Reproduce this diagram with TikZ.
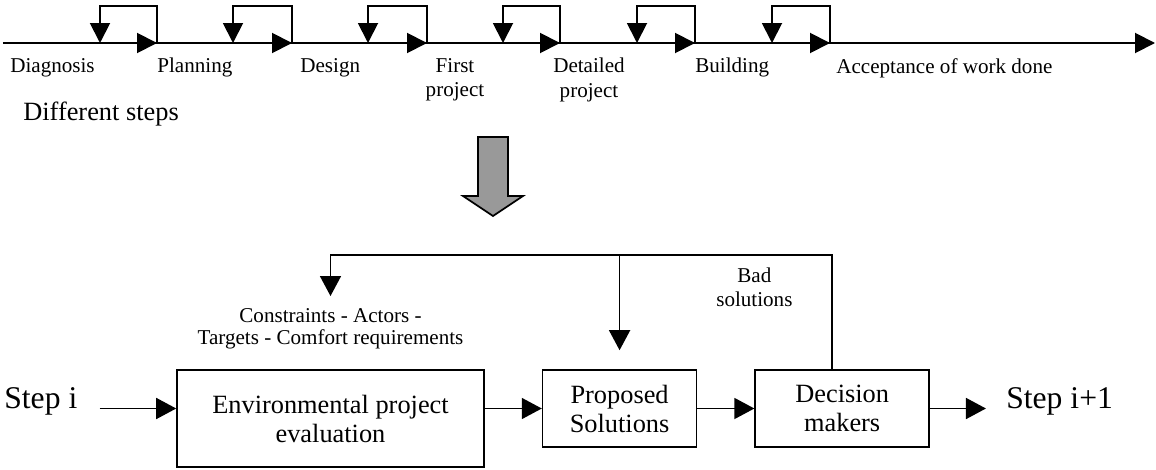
\documentclass[tikz,border=0pt]{standalone}
\usepackage{fontspec}
\setmainfont{Liberation Serif}
\usetikzlibrary{positioning}
\usetikzlibrary{positioning,arrows.meta}

\begin{document}
\begin{tikzpicture}[node distance=1cm and 1.14cm]
\tikzset{
    stepLabel/.style={inner sep=0pt, align=center, font=\fontsize{12}{13.7}\selectfont},
    titleStyle/.style={inner sep=0pt, font=\fontsize{15}{17}\selectfont},
    stepText/.style={inner sep=0pt, font=\fontsize{18}{20}\selectfont},
    boxStyle/.style={rectangle, draw, line width=0.9pt, minimum height=1.54cm, align=center, font=\fontsize{15}{16.5}\selectfont},
    timeArrow/.style={-{Triangle[length=0.4cm, width=0.4cm]}, line width=1.1pt},
    flowArrow/.style={-{Triangle[length=0.4cm, width=0.42cm]}, line width=0.9pt},
    bigArrow/.style={draw, line width=1pt, fill=black!40, line join=miter}
}

\useasboundingbox (0,0) rectangle (23.12,-9.38);

% time line, one small loop after each step
\coordinate (tlStart) at (0.06,-0.86);
\coordinate (tlEnd) at (23.10,-0.86);
\coordinate (l1) at (2.00,-0.86);  \coordinate (r1) at (3.14,-0.86);
\coordinate (l2) at (4.66,-0.86);  \coordinate (r2) at (5.84,-0.86);
\coordinate (l3) at (7.36,-0.86);  \coordinate (r3) at (8.54,-0.86);
\coordinate (l4) at (10.06,-0.86); \coordinate (r4) at (11.20,-0.86);
\coordinate (l5) at (12.74,-0.86); \coordinate (r5) at (13.90,-0.86);
\coordinate (l6) at (15.44,-0.86); \coordinate (r6) at (16.60,-0.86);

\draw[timeArrow] (tlStart) -- (tlEnd);

\draw[timeArrow] (l1) -- (r1);
\draw[timeArrow] (r1) -- ++(0,0.74) -| (l1);
\draw[timeArrow] (l2) -- (r2);
\draw[timeArrow] (r2) -- ++(0,0.74) -| (l2);
\draw[timeArrow] (l3) -- (r3);
\draw[timeArrow] (r3) -- ++(0,0.74) -| (l3);
\draw[timeArrow] (l4) -- (r4);
\draw[timeArrow] (r4) -- ++(0,0.74) -| (l4);
\draw[timeArrow] (l5) -- (r5);
\draw[timeArrow] (r5) -- ++(0,0.74) -| (l5);
\draw[timeArrow] (l6) -- (r6);
\draw[timeArrow] (r6) -- ++(0,0.74) -| (l6);

\node[stepLabel, below right=0.3cm and 0.14cm of tlStart] (diag) {Diagnosis};
\node[stepLabel, below right=0.3cm and 0cm of r1] (plan) {Planning};
\node[stepLabel, below right=0.3cm and 0.16cm of r2] (design) {Design};
\node[stepLabel, below=0.3cm of r3, xshift=0.56cm] (first) {First\\project};
\node[stepLabel, below=0.3cm of r4, xshift=0.58cm] (detail) {Detailed\\project};
\node[stepLabel, below right=0.3cm and 0cm of r5] (build) {Building};
\node[stepLabel, below right=0.3cm and 0.12cm of r6] (accept) {Acceptance of work done};

\node[titleStyle, anchor=north west] (diff) at (0.46,-2.04) {Different steps};

% big grey arrow down to the detail of one step
\draw[bigArrow] (9.56,-2.74) -- (10.16,-2.74) -- (10.16,-3.92) -- (10.46,-3.92)
    -- (9.86,-4.32) -- (9.26,-3.92) -- (9.56,-3.92) -- cycle;

% one step in detail
\node[boxStyle, minimum width=6.14cm, minimum height=1.94cm] (env) at (6.61,-8.37) {Environmental project\\evaluation};
\node[boxStyle, minimum width=3.08cm, right=of env, yshift=0.2cm] (prop) {Proposed\\Solutions};
\node[boxStyle, minimum width=3.48cm, right=of prop] (dec) {Decision\\makers};

\node[stepText, anchor=base west] (stepIn) at (0.08,-8.16) {Step i};
\node[stepText, right=1.52cm of dec.east, anchor=base west] (stepOut) {Step i+1};

\node[stepLabel, font=\fontsize{12}{12.5}\selectfont, above=0.39cm of env] (cons) {Constraints - Actors -\\Targets - Comfort requirements};
\node[stepLabel, above=1.24cm of dec.north west] (bad) {Bad\\solutions};

\draw[flowArrow] ([xshift=0.44cm]stepIn.east |- prop.west) -- (env.west |- prop.west);
\draw[flowArrow] (env.east |- prop.west) -- (prop.west);
\draw[flowArrow] (prop.east) -- (dec.west);
\draw[flowArrow] (dec.east) -- ([xshift=-0.4cm]stepOut.west |- dec.east);

% bad solutions go back up
\coordinate (fbTop) at (0,-5.10);
\draw[flowArrow] ([xshift=-0.2cm]dec.north) |- (env.north |- fbTop) -- ([yshift=0.25cm]cons.north);
\draw[flowArrow] (prop.north |- fbTop) -- ([yshift=0.38cm]prop.north);

\end{tikzpicture}
\end{document}
